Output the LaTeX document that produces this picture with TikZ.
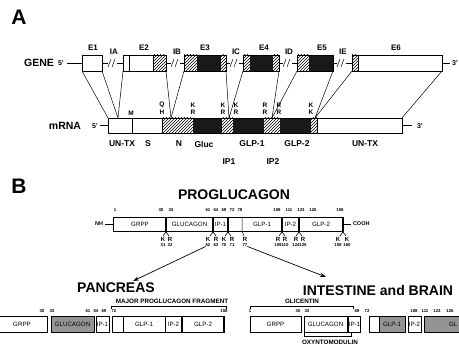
\documentclass[tikz,border=0pt]{standalone}
\usepackage{fontspec}
\setmainfont{Liberation Sans}
\usetikzlibrary{patterns,arrows.meta}
\newcommand\myfs[1]{\fontsize{#1}{#1}\selectfont}
\begin{document}
\begin{tikzpicture}[x=1pt,y=-1pt,
  every node/.style={inner sep=0pt, outer sep=0pt},
  big/.style={font=\bfseries\myfs{21}},
  rowlbl/.style={font=\bfseries\myfs{10.5}},
  exlbl/.style={font=\bfseries\myfs{8}},
  prime/.style={font=\bfseries\myfs{7}},
  aa/.style={font=\bfseries\myfs{6.5}},
  seglbl/.style={font=\bfseries\myfs{8.5}},
  num/.style={font=\bfseries\myfs{4.3}},
  pl/.style={font=\myfs{6.2}},
  brk/.style={font=\bfseries\myfs{6.3}},
  title/.style={font=\bfseries\myfs{14}},
  box/.style={draw, line width=0.6pt, anchor=north west},
  hat/.style={pattern=north east lines},
  blk/.style={fill=black!90},
  gry/.style={fill=black!42},
  cut/.style={line width=1.6pt},
  con/.style={line width=0.5pt},
  arr/.style={line width=0.7pt, -{Stealth[length=6pt,width=4pt]}},
]
\useasboundingbox[fill=white] (0,0) rectangle (459,344);
% ---------------- A ----------------
\node[big] (A) at (19,17) {A};
\node[rowlbl] (gene) at (39,63) {GENE};
\node[prime] (g5l) at (61,63) {5'};
\coordinate (g5) at (67,63);
\coordinate (g3) at (450,63);
\node[prime, anchor=west] (g3l) at (452,63) {3'};
% gene fills
\fill[hat] (153,55) rectangle (166,71);
\fill[hat] (184,55) rectangle (197,71); \fill[blk] (197,55) rectangle (221,71); \fill[hat] (221,55) rectangle (226,71);
\fill[hat] (243,55) rectangle (250,71); \fill[blk] (250,55) rectangle (273,71); \fill[hat] (273,55) rectangle (279,71);
\fill[hat] (297,55) rectangle (309,71); \fill[blk] (309,55) rectangle (333,71);
\fill[hat] (352,55) rectangle (358,71);
\node[box, minimum width=20, minimum height=16] (E1) at (82,55) {};
\node[box, minimum width=43, minimum height=16] (E2) at (123,55) {};
\node[box, minimum width=42, minimum height=16] (E3) at (184,55) {};
\node[box, minimum width=36, minimum height=16] (E4) at (243,55) {};
\node[box, minimum width=36, minimum height=16] (E5) at (297,55) {};
\node[box, minimum width=90, minimum height=16] (E6) at (352,55) {};
\draw[line width=0.6pt] (129,55) -- (129,71) (153,55) -- (153,71) (358,55) -- (358,71);
\draw[con] (g5) -- (E1.west) (E1.east) -- (E2.west) (E2.east) -- (E3.west)
  (E3.east) -- (E4.west) (E4.east) -- (E5.west) (E5.east) -- (E6.west) (E6.east) -- (g3);
% exon labels
\node[exlbl] (lE1) at (93,48) {E1};
\node[exlbl] (lE2) at (144,48) {E2};
\node[exlbl] (lE3) at (205,48) {E3};
\node[exlbl] (lE4) at (264,48) {E4};
\node[exlbl] (lE5) at (322,48) {E5};
\node[exlbl] (lE6) at (396,48) {E6};
% introns
\foreach \cx/\nm in {113/IA,176/IB,235/IC,288/ID,342/IE}{
  \fill[white] (\cx-5,61) rectangle (\cx+4,65);
  \draw[con] (\cx-5,67) -- (\cx-2,59) (\cx-1,67) -- (\cx+2,59);
  \node[exlbl] (i\nm) at (\cx+1,52) {\nm};
}
% mRNA
\node[rowlbl] (mrna) at (65,126) {mRNA};
\node[prime] (m5l) at (95,126) {5'};
\fill[hat] (162,118) rectangle (193,133); \fill[blk] (193,118) rectangle (222,133);
\fill[hat] (222,118) rectangle (233,133); \fill[blk] (233,118) rectangle (264,133);
\fill[hat] (264,118) rectangle (280,133); \fill[blk] (280,118) rectangle (311,133);
\fill[hat] (311,118) rectangle (317,133);
\node[box, minimum width=294, minimum height=15] (mR) at (108,118) {};
\draw[line width=0.6pt] (132,118) -- (132,133) (162,118) -- (162,133) (317,118) -- (317,133);
\coordinate (m5) at (100,125.5);
\coordinate (m3) at (412,125.5);
\draw[con] (m5) -- (mR.west) (mR.east) -- (m3);
\node[prime] (m3l) at (420,126) {3'};
% exon-to-mRNA lines
\coordinate (j1) at (118,118);
\coordinate (j2) at (171,118);
\coordinate (j3) at (229,118);
\coordinate (j4) at (272,118);
\coordinate (j5) at (315,118);
\draw[con] (E1.south west) -- (mR.north west)
  (E1.south east) -- (j1) (E2.south west) -- (j1)
  (E2.south east) -- (j2) (E3.south west) -- (j2)
  (E3.south east) -- (j3) (E4.south west) -- (j3)
  (E4.south east) -- (j4) (E5.south west) -- (j4)
  (E5.south east) -- (j5) (E6.south west) -- (j5)
  (E6.south east) -- (mR.north east);
% amino acids above mRNA
\node[aa] (aM) at (131,113) {M};
\node[aa] (aQ) at (162,105) {Q};
\node[aa] (aH) at (162,112.5) {H};
\foreach \xx/\t/\b [count=\k] in {193/K/R,223/K/R,236/K/R,265/R/R,279/R/R,311/K/K}{
  \node[aa] (at\k) at (\xx,105) {\t};
  \node[aa] (ab\k) at (\xx,112.5) {\b};
}
% labels below mRNA
\node[seglbl] (s1) at (122,144) {UN-TX};
\node[seglbl] (s2) at (148,144) {S};
\node[seglbl] (s3) at (179,144) {N};
\node[seglbl] (s4) at (204,144) {Gluc};
\node[seglbl] (s5) at (252,144) {GLP-1};
\node[seglbl] (s6) at (297,144) {GLP-2};
\node[seglbl] (s7) at (365,144) {UN-TX};
\node[seglbl] (s8) at (229,162) {IP1};
\node[seglbl] (s9) at (273,162) {IP2};
% ---------------- B ----------------
\node[big] (B) at (19,186) {B};
\node[title] (PGt) at (234,195) {PROGLUCAGON};
\node[box, minimum width=230, minimum height=14] (PG) at (113,217) {};
\coordinate (nhe) at (105,224);
\node[font=\bfseries\myfs{5.5}, anchor=east] (NH) at (103,224) {NH};
\draw[con] (nhe) -- (PG.west);
\coordinate (coe) at (351,224);
\node[font=\bfseries\myfs{5.5}, anchor=west] (COOH) at (353,224) {COOH};
\draw[con] (PG.east) -- (coe);
\foreach \xx in {166,213,228,282,299,343}{
  \draw[cut] (\xx,217) -- (\xx,232);
  \draw[line width=0.6pt] (\xx,232) -- (\xx-3,236) (\xx,232) -- (\xx+3,236);
}
\draw[line width=0.5pt] (242,217) -- (242,231) -- (244,236);
\node[pl] (pg1) at (140,224) {GRPP};
\node[pl] (pg2) at (189.5,224) {GLUCAGON};
\node[pl] (pg3) at (220.5,224) {IP-1};
\node[pl] (pg4) at (262,224) {GLP-1};
\node[pl] (pg5) at (290.5,224) {IP-2};
\node[pl] (pg6) at (321,224) {GLP-2};
\foreach \xx/\t [count=\k] in {115/1,161/30,171/33,208/61,216/64,224/69,232/72,240/78,277/108,289/111,301/123,313/126,340/158}{
  \node[num] (tn\k) at (\xx,210) {\t};
}
\foreach \xx/\l/\n in {163/K/31,170/R/32,208/K/62,216/R/63,224/K/70,232/R/71,245/R/77,278/R/109,285/R/110,296/R/124,303/R/125,338/K/159,347/K/160}{
  \node[font=\bfseries\myfs{6}] (L\n) at (\xx,239) {\l};
  \node[num] (n\n) at (\xx,245) {\n};
}
\coordinate (ar1) at (133,281);
\coordinate (ar2) at (326,277);
\draw[arr] (n62.south west) -- (ar1);
\draw[arr] (n77.south east) -- (ar2);
\node[title] (PAN) at (116,288) {PANCREAS};
\node[title] (INT) at (378,290) {INTESTINE and BRAIN};
% pancreas row
\node[box, minimum width=49, minimum height=16] (P1) at (-2,316) {};
\node[box, gry, minimum width=43, minimum height=16] (P2) at (51,316) {};
\node[box, minimum width=13, minimum height=16] (P3) at (96,316) {};
\node[box, minimum width=112, minimum height=16] (P4) at (112,316) {};
\draw[line width=0.6pt] (123,316) -- (123,332) (165,316) -- (165,332);
\draw[cut] (182,316) -- (182,332) (224,316) -- (224,332);
\node[pl] (p1) at (22,324) {GRPP};
\node[pl] (p2) at (72.5,324) {GLUCAGON};
\node[pl] (p3) at (102.5,324) {IP-1};
\node[pl] (p4) at (144,324) {GLP-1};
\node[pl] (p5) at (173.5,324) {IP-2};
\node[pl] (p6) at (203,324) {GLP-2};
\foreach \xx/\t [count=\k] in {42/30,52/33,88/61,96/64,104/69,114/72,224/158}{
  \node[num] (pn\k) at (\xx,311) {\t};
}
\node[brk] (MPF) at (172,301) {MAJOR PROGLUCAGON FRAGMENT};
\draw[line width=0.5pt] (111,309) -- (111,306) -- (226,306) -- (226,309);
% intestine row
\node[box, minimum width=51, minimum height=16] (I1) at (250,316) {};
\node[box, minimum width=56, minimum height=16] (I2) at (304,316) {};
\fill[gry] (379,316) rectangle (405,332);
\node[box, minimum width=36, minimum height=16] (I3) at (369,316) {};
\draw[line width=0.6pt] (379,316) -- (379,332);
\node[box, minimum width=13, minimum height=16] (I4) at (408,316) {};
\node[box, gry, minimum width=45, minimum height=16] (I5) at (424,316) {};
\draw[cut] (348,316) -- (348,332);
\node[pl] (q1) at (275.5,324) {GRPP};
\node[pl] (q2) at (325.5,324) {GLUCAGON};
\node[pl] (q3) at (354.5,324) {IP-1};
\node[pl] (q4) at (392,324) {GLP-1};
\node[pl] (q5) at (414.5,324) {IP-2};
\node[pl, anchor=west] (q6) at (449,324) {GL};
\foreach \xx/\t [count=\k] in {250/1,298/30,307/33,357/69,367/72,414/108,425/111,437/123,450/126}{
  \node[num] (qn\k) at (\xx,311) {\t};
}
\node[brk] (GLI) at (302,301) {GLICENTIN};
\draw[line width=0.5pt] (250,309) -- (250,306) -- (353,306) -- (353,309);
\node[brk] (OXM) at (330,342) {OXYNTOMODULIN};
\draw[line width=0.5pt] (304,333) -- (304,336) -- (351,336) -- (351,333);
\end{tikzpicture}
\end{document}
